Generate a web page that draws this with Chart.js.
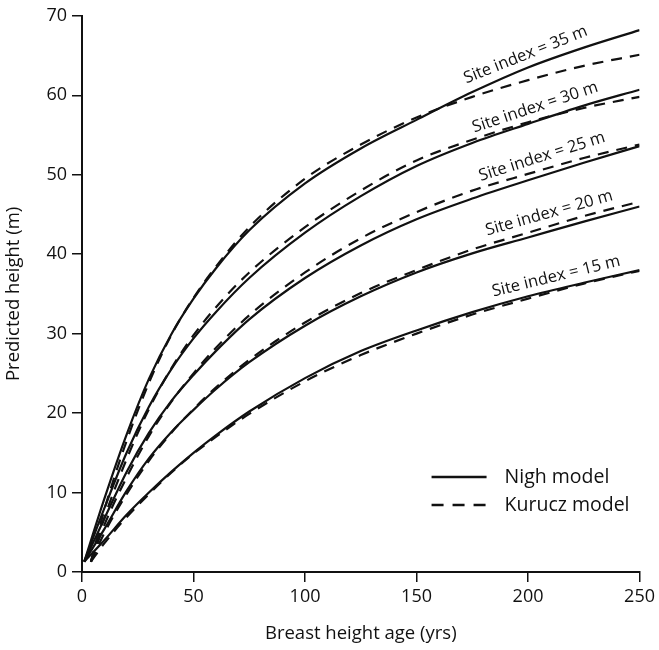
<!DOCTYPE html>
<html>
<head>
<meta charset="utf-8">
<script src="https://cdn.jsdelivr.net/npm/chart.js"></script>
<style>
  html, body { margin: 0; padding: 0; background: #fff; }
</style>
</head>
<body>
<canvas id="heightChart" width="659" height="650"></canvas>
<script>
// breast height age (yrs) at which each model's curve is read
const nighAges = [1, 10, 20, 30, 40, 50, 60, 75, 100, 125, 150, 175, 200, 225, 250];
const kuruczAges = [4, 10, 20, 30, 40, 50, 60, 75, 100, 125, 150, 175, 200, 225, 250];

const siteIndices = [35, 30, 25, 20, 15];

// predicted height (m) - Nigh model
const nigh35 = [1.3, 9.2, 17.3, 24.3, 29.9, 34.4, 38.2, 43.0, 48.9, 53.3, 56.9, 60.4, 63.5, 66.0, 68.2];
const nigh30 = [1.3, 8.0, 15.0, 20.8, 25.5, 29.4, 32.7, 37.0, 42.7, 47.3, 51.1, 54.0, 56.4, 58.7, 60.7];
const nigh25 = [1.3, 6.7, 12.6, 17.5, 21.5, 24.8, 27.8, 31.8, 37.0, 41.1, 44.4, 47.0, 49.3, 51.5, 53.6];
const nigh20 = [1.3, 5.4, 10.2, 14.3, 17.6, 20.4, 23.0, 26.4, 31.0, 34.7, 37.7, 40.1, 42.1, 44.1, 46.0];
const nigh15 = [1.3, 4.0, 7.2, 10.0, 12.6, 15.0, 17.2, 20.2, 24.4, 27.8, 30.4, 32.7, 34.7, 36.4, 38.0];

// predicted height (m) - Kurucz model
const kurucz35 = [1.3, 7.8, 16.5, 23.8, 29.8, 34.5, 38.4, 43.4, 49.5, 53.8, 57.2, 59.8, 61.9, 63.7, 65.1];
const kurucz30 = [1.3, 6.8, 14.2, 20.5, 25.6, 29.8, 33.3, 37.7, 43.4, 48.0, 51.8, 54.4, 56.6, 58.4, 59.8];
const kurucz25 = [1.3, 5.9, 11.9, 17.1, 21.4, 25.0, 28.2, 32.3, 37.7, 42.0, 45.3, 48.0, 50.1, 52.1, 53.8];
const kurucz20 = [1.3, 4.9, 9.8, 14.0, 17.5, 20.5, 23.2, 26.7, 31.4, 35.1, 38.0, 40.6, 42.7, 44.8, 46.6];
const kurucz15 = [1.3, 3.6, 6.9, 9.8, 12.5, 14.9, 17.0, 19.9, 24.0, 27.3, 30.0, 32.4, 34.4, 36.3, 37.9];

const xTicks = [0, 50, 100, 150, 200, 250];
const yTicks = [0, 10, 20, 30, 40, 50, 60, 70];

const nighSeries = [nigh35, nigh30, nigh25, nigh20, nigh15];
const kuruczSeries = [kurucz35, kurucz30, kurucz25, kurucz20, kurucz15];

const FONT = '"Open Sans", "Noto Sans", sans-serif';
const INK = '#111';

function toPoints(ages, vals) {
  return ages.map((a, i) => ({ x: a, y: vals[i] }));
}

function interp(ages, vals, a) {
  for (let i = 1; i < ages.length; i++) {
    if (a <= ages[i]) {
      const t = (a - ages[i - 1]) / (ages[i] - ages[i - 1]);
      return vals[i - 1] + t * (vals[i] - vals[i - 1]);
    }
  }
  return vals[vals.length - 1];
}

const datasets = [];
siteIndices.forEach((si, i) => {
  datasets.push({
    label: 'Nigh ' + si,
    data: toPoints(nighAges, nighSeries[i]),
    borderColor: INK,
    borderWidth: 2.2,
    pointRadius: 0,
    cubicInterpolationMode: 'monotone',
  });
  datasets.push({
    label: 'Kurucz ' + si,
    data: toPoints(kuruczAges, kuruczSeries[i]),
    borderColor: INK,
    borderWidth: 2.2,
    borderDash: [11, 8],
    pointRadius: 0,
    cubicInterpolationMode: 'monotone',
  });
});

// where along each curve the "Site index" text sits (age, yrs)
const labelAges = [201, 205, 208, 211, 214];

const curveLabels = {
  id: 'curveLabels',
  afterDatasetsDraw(chart) {
    const { ctx, chartArea } = chart;
    const x = chart.scales.x, y = chart.scales.y;
    ctx.save();
    ctx.fillStyle = INK;
    ctx.font = '16.5px ' + FONT;
    ctx.textAlign = 'center';
    ctx.textBaseline = 'alphabetic';
    siteIndices.forEach((si, i) => {
      const a = labelAges[i];
      const upper = Math.max(interp(nighAges, nighSeries[i], a), interp(kuruczAges, kuruczSeries[i], a));
      const px = x.getPixelForValue(a);
      const py = y.getPixelForValue(upper);
      const x1 = x.getPixelForValue(a - 20), x2 = x.getPixelForValue(a + 20);
      const y1 = y.getPixelForValue(interp(nighAges, nighSeries[i], a - 20));
      const y2 = y.getPixelForValue(interp(nighAges, nighSeries[i], a + 20));
      ctx.save();
      ctx.translate(px, py);
      ctx.rotate(Math.atan2(y2 - y1, x2 - x1));
      ctx.fillText('Site index = ' + si + ' m', 0, -8);
      ctx.restore();
    });

    // legend, bottom right
    const lx = chartArea.right - 208;
    const ly = chartArea.bottom - 95;
    ctx.strokeStyle = INK;
    ctx.lineWidth = 2.5;
    ctx.beginPath();
    ctx.moveTo(lx, ly);
    ctx.lineTo(lx + 55, ly);
    ctx.stroke();
    ctx.setLineDash([12, 9]);
    ctx.beginPath();
    ctx.moveTo(lx, ly + 28);
    ctx.lineTo(lx + 55, ly + 28);
    ctx.stroke();
    ctx.setLineDash([]);
    ctx.font = '19.5px ' + FONT;
    ctx.textAlign = 'left';
    ctx.textBaseline = 'middle';
    ctx.fillText('Nigh model', lx + 73, ly);
    ctx.fillText('Kurucz model', lx + 73, ly + 28);
    ctx.restore();
  }
};

const ctx = document.getElementById('heightChart').getContext('2d');
new Chart(ctx, {
  type: 'line',
  data: { datasets },
  options: {
    responsive: false,
    animation: false,
    devicePixelRatio: 1,
    layout: { padding: { top: 15, right: 18, left: 0, bottom: 0 } },
    plugins: { legend: { display: false }, tooltip: { enabled: false } },
    scales: {
      x: {
        type: 'linear',
        min: 0,
        max: 250,
        afterFit: (s) => { s.height = 78; },
        afterBuildTicks: (s) => { s.ticks = xTicks.map(v => ({ value: v })); },
        border: { display: true, color: INK, width: 2 },
        grid: { drawOnChartArea: false, drawTicks: true, tickLength: 10, color: INK, lineWidth: 1.5 },
        ticks: { color: INK, font: { family: FONT, size: 18 }, padding: 4, maxRotation: 0 },
        title: { display: true, text: 'Breast height age (yrs)', color: INK, font: { family: FONT, size: 18.5 }, padding: { bottom: 5 } },
      },
      y: {
        min: 0,
        max: 70,
        afterFit: (s) => { s.width = 82; },
        afterBuildTicks: (s) => { s.ticks = yTicks.map(v => ({ value: v })); },
        border: { display: true, color: INK, width: 2 },
        grid: { drawOnChartArea: false, drawTicks: true, tickLength: 10, color: INK, lineWidth: 1.5 },
        ticks: { color: INK, font: { family: FONT, size: 18 }, padding: 5 },
        title: { display: true, text: 'Predicted height (m)', color: INK, font: { family: FONT, size: 18.5 }, padding: { top: 3 } },
      },
    },
  },
  plugins: [curveLabels],
});
</script>
</body>
</html>
